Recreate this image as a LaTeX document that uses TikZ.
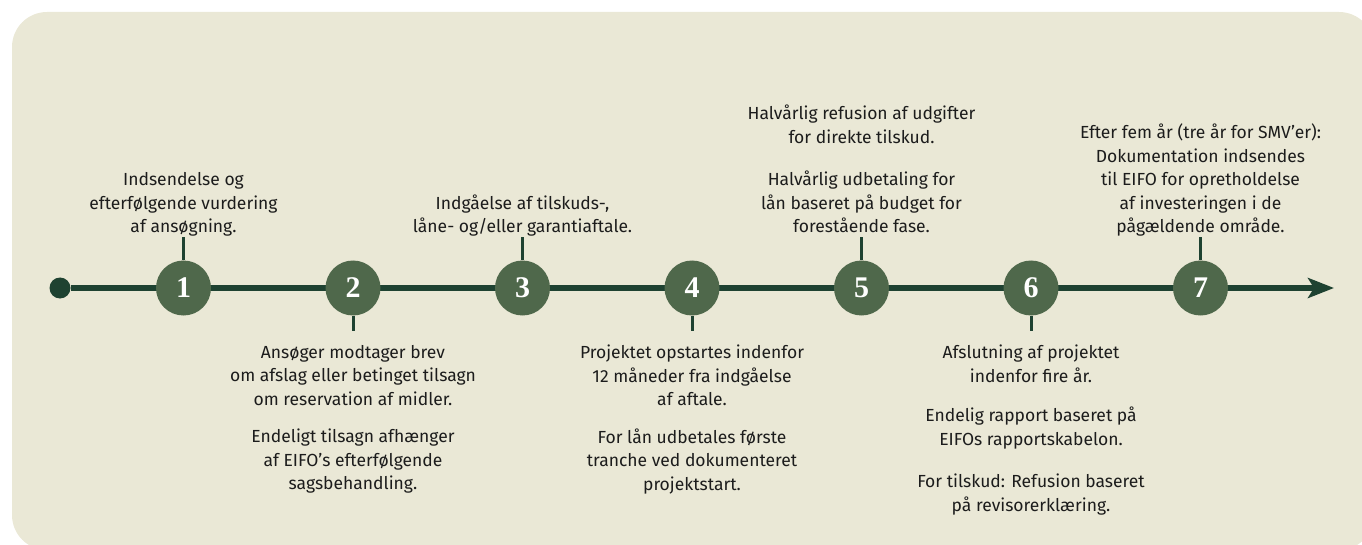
\documentclass[tikz,border=0pt]{standalone}
\usepackage{fontspec}
\setmainfont{Fira Sans}
\newfontfamily\numfont{Liberation Serif}
\usetikzlibrary{arrows.meta,positioning}
\definecolor{panel}{HTML}{EAE8D6}
\definecolor{darkline}{HTML}{1E4231}
\definecolor{stepgreen}{HTML}{4F684B}
\definecolor{ink}{HTML}{1C1C1C}

\begin{document}
\begin{tikzpicture}[x=1pt,y=-1pt,
  phase/.style={circle,fill=stepgreen,minimum size=55pt,inner sep=0pt,text=white,
    font=\numfont\bfseries\fontsize{30}{30}\selectfont},
  note/.style={align=center,text=ink,inner xsep=0pt,font=\fontsize{17.5}{23.5}\selectfont},
  above note/.style={note,anchor=south,inner ysep=1pt,text depth=3pt},
  below note/.style={note,anchor=north,inner ysep=14pt},
  tick/.style={draw=darkline,line width=3pt},
  axis/.style={draw=darkline,line width=5.5pt}]

  \useasboundingbox (0,0) rectangle (1362,545);
  \begin{scope}
    \clip (0,0) rectangle (1362,545);
    \fill[panel,rounded corners=35pt] (12,12) rectangle (1374,550);
  \end{scope}

  \node[circle,fill=darkline,minimum size=21pt,inner sep=0pt] (start) at (60,288) {};
  \coordinate (tip) at (1334,288);
  \draw[axis,-{Stealth[length=26pt,width=20pt,inset=6pt]}] (start) -- (tip);

  \foreach \i in {1,...,7}
    \node[phase] (s\i) at ({14+169.5*\i},288) {\i};

  \node[above note] (t1) at (s1 |- 0,237) {Indsendelse og\\efterfølgende vurdering\\af ansøgning.};
  \node[below note] (t2) at (s2 |- 0,331) {Ansøger modtager brev\\om afslag eller betinget tilsagn\\om reservation af midler.\\[14pt]
    Endeligt tilsagn afhænger\\af EIFO’s efterfølgende\\sagsbehandling.};
  \node[above note] (t3) at (s3 |- 0,237) {Indgåelse af tilskuds-,\\låne- og/eller garantiaftale.};
  \node[below note] (t4) at (s4 |- 0,331) {Projektet opstartes indenfor\\12 måneder fra indgåelse\\af aftale.\\[14pt]
    For lån udbetales første\\tranche ved dokumenteret\\projektstart.};
  \node[above note] (t5) at (s5 |- 0,237) {Halvårlig refusion af udgifter\\for direkte tilskud.\\[19pt]
    Halvårlig udbetaling for\\lån baseret på budget for\\forestående fase.};
  \node[below note] (t6) at (s6 |- 0,331) {Afslutning af projektet\\indenfor fire år.\\[16pt]
    Endelig rapport baseret på\\EIFOs rapportskabelon.\\[19pt]
    For tilskud: Refusion baseret\\på revisorerklæring.};
  \node[above note] (t7) at (s7 |- 0,237) {Efter fem år (tre år for SMV’er):\\Dokumentation indsendes\\til EIFO for opretholdelse\\af investeringen i de\\pågældende område.};

  \draw[tick] (s1) -- (t1);
  \draw[tick] (s2) -- (t2);
  \draw[tick] (s3) -- (t3);
  \draw[tick] (s4) -- (t4);
  \draw[tick] (s5) -- (t5);
  \draw[tick] (s6) -- (t6);
  \draw[tick] (s7) -- (t7);
\end{tikzpicture}
\end{document}
